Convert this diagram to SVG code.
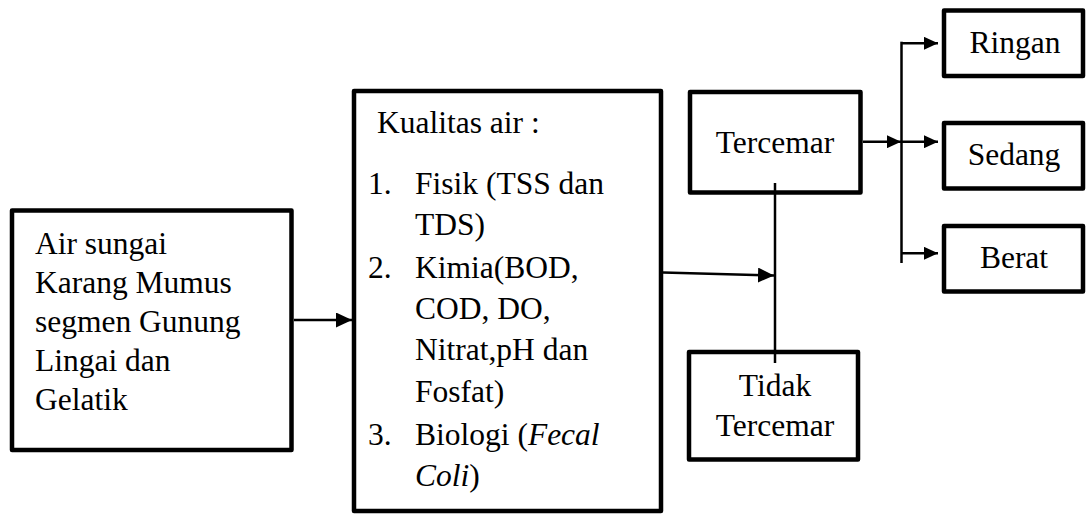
<svg xmlns="http://www.w3.org/2000/svg" width="1086" height="515" viewBox="0 0 1086 515">
<style>
.box{fill:#fff;stroke:#000;stroke-width:4.5;stroke-linejoin:round}
.t{font-family:'Liberation Serif','DejaVu Serif',serif;font-size:31.5px;fill:#000}
.c{text-anchor:middle}
.ln{stroke:#000;stroke-width:2.5;fill:none}
</style>
<defs>
<marker id="ah" markerUnits="userSpaceOnUse" markerWidth="16" markerHeight="15" refX="16" refY="7.5" orient="auto">
<path d="M0,0 L16,7.5 L0,15 z" fill="#000"/>
</marker>
<marker id="ah2" markerUnits="userSpaceOnUse" markerWidth="14" markerHeight="13" refX="14" refY="6.5" orient="auto">
<path d="M0,0 L14,6.5 L0,13 z" fill="#000"/>
</marker>
</defs>
<rect width="1086" height="515" fill="#fff"/>
<g id="node-air-sungai">
<rect class="box" x="12" y="210.5" width="279.5" height="239.5"/>
<text class="t" x="35" y="253.5">Air sungai</text>
<text class="t" x="35" y="292.5">Karang Mumus</text>
<text class="t" x="35" y="331.5">segmen Gunung</text>
<text class="t" x="35" y="370.5">Lingai dan</text>
<text class="t" x="35" y="409.5">Gelatik</text>
</g>
<g id="node-kualitas">
<rect class="box" x="354" y="91" width="307" height="420"/>
<text class="t" x="377" y="133">Kualitas air :</text>
<text class="t" x="368" y="194">1.</text>
<text class="t" x="415" y="194">Fisik (TSS dan</text>
<text class="t" x="415" y="235">TDS)</text>
<text class="t" x="368" y="277.5">2.</text>
<text class="t" x="415" y="277.5">Kimia(BOD,</text>
<text class="t" x="415" y="318.5">COD, DO,</text>
<text class="t" x="415" y="360">Nitrat,pH dan</text>
<text class="t" x="415" y="402">Fosfat)</text>
<text class="t" x="368" y="444.5">3.</text>
<text class="t" x="415" y="444.5">Biologi (<tspan font-style="italic">Fecal</tspan></text>
<text class="t" x="415" y="485.5"><tspan font-style="italic">Coli</tspan>)</text>
</g>
<g id="node-tercemar">
<rect class="box" x="690" y="92" width="170.5" height="100.5"/>
<text class="t c" x="775" y="153">Tercemar</text>
</g>
<g id="node-tidak-tercemar">
<rect class="box" x="689" y="352" width="169" height="107.5"/>
<text class="t c" x="775" y="396">Tidak</text>
<text class="t c" x="775" y="436">Tercemar</text>
</g>
<g id="node-ringan">
<rect class="box" x="944" y="10.5" width="139" height="65.5"/>
<text class="t c" x="1015" y="53">Ringan</text>
</g>
<g id="node-sedang">
<rect class="box" x="944" y="123" width="139" height="65.5"/>
<text class="t c" x="1014" y="165">Sedang</text>
</g>
<g id="node-berat">
<rect class="box" x="944" y="226" width="139" height="65.5"/>
<text class="t c" x="1014" y="268">Berat</text>
</g>
<g id="connectors">
<line class="ln" x1="294" y1="320" x2="352" y2="320" marker-end="url(#ah)"/>
<line class="ln" x1="663" y1="272.5" x2="774" y2="275.5" marker-end="url(#ah)"/>
<line class="ln" x1="775" y1="183" x2="775" y2="363"/>
<line class="ln" x1="863" y1="141.7" x2="901" y2="141.7" stroke-width="3" marker-end="url(#ah2)"/>
<line class="ln" x1="901.5" y1="41.7" x2="901.5" y2="263"/>
<line class="ln" x1="901.5" y1="43.3" x2="938" y2="43.3" marker-end="url(#ah2)"/>
<line class="ln" x1="901.5" y1="141.7" x2="938" y2="141.7" marker-end="url(#ah2)"/>
<line class="ln" x1="901.5" y1="253.3" x2="938" y2="253.3" marker-end="url(#ah2)"/>
</g>
</svg>
